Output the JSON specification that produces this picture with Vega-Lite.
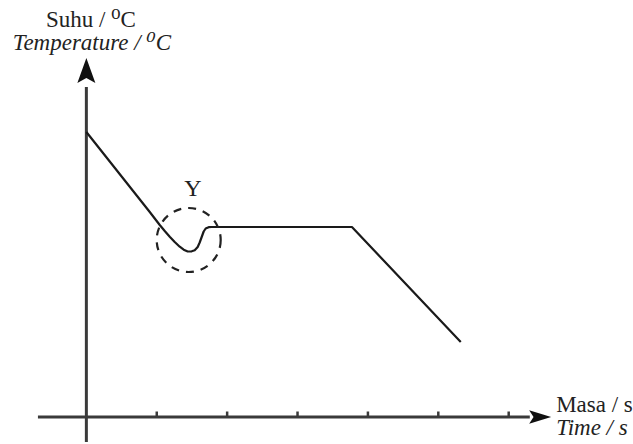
{
  "$schema": "https://vega.github.io/schema/vega-lite/v6.json",
  "width": 633,
  "height": 444,
  "padding": 0,
  "autosize": {"type": "fit", "contains": "padding"},
  "background": "white",
  "config": {"view": {"stroke": null}},
  "datasets": {
    "curve": [
      {"t": 0, "T": 28.5},
      {"t": 0.9007, "T": 20.5},
      {"t": 0.9716, "T": 19.85},
      {"t": 1.0426, "T": 19.2},
      {"t": 1.1135, "T": 18.6},
      {"t": 1.1844, "T": 18.03},
      {"t": 1.2553, "T": 17.5},
      {"t": 1.3262, "T": 17.03},
      {"t": 1.383, "T": 16.73},
      {"t": 1.4397, "T": 16.55},
      {"t": 1.4965, "T": 16.57},
      {"t": 1.539, "T": 16.67},
      {"t": 1.5816, "T": 17.0},
      {"t": 1.6099, "T": 17.45},
      {"t": 1.6383, "T": 18.0},
      {"t": 1.6667, "T": 18.55},
      {"t": 1.695, "T": 18.85},
      {"t": 1.7376, "T": 18.98},
      {"t": 1.7801, "T": 19.0},
      {"t": 3.773, "T": 19.0},
      {"t": 5.3191, "T": 7.5}
    ],
    "yaxis": [{"t": 0, "T": -2.5, "T2": 33}],
    "xaxis": [{"t": -0.688, "t2": 6.3, "T": 0}],
    "ticks": [
      {"t": 1, "T": 0, "T2": 0.55},
      {"t": 2, "T": 0, "T2": 0.55},
      {"t": 3, "T": 0, "T2": 0.55},
      {"t": 4, "T": 0, "T2": 0.55},
      {"t": 5, "T": 0, "T2": 0.55},
      {"t": 6, "T": 0, "T2": 0.55}
    ],
    "yarrow": [{"t": 0, "T": 34.65}],
    "xarrow": [{"t": 6.447, "T": 0}],
    "circle": [{"t": 1.4539, "T": 17.7}],
    "ylabel": [{"t": 1.515, "T": 22.8, "label": "Y"}],
    "ytitle1": [{"t": 0.064, "T": 39.7, "label": "Suhu / ⁰C"}],
    "ytitle2": [{"t": 0.078, "T": 37.4, "label": "Temperature / ⁰C"}],
    "xtitle1": [{"t": 6.674, "T": 1.2, "label": "Masa / s"}],
    "xtitle2": [{"t": 6.674, "T": -1.1, "label": "Time / s"}]
  },
  "encoding": {
    "x": {"field": "t", "type": "quantitative", "axis": null, "scale": {"domain": [-1.227, 7.7518], "nice": false, "zero": false}},
    "y": {"field": "T", "type": "quantitative", "axis": null, "scale": {"domain": [-2.7, 41.7], "nice": false, "zero": false}}
  },
  "layer": [
    {
      "data": {"name": "yaxis"},
      "mark": {"type": "rule", "color": "#3a3a3a", "strokeWidth": 3, "strokeCap": "butt"},
      "encoding": {"y2": {"field": "T2"}}
    },
    {
      "data": {"name": "xaxis"},
      "mark": {"type": "rule", "color": "#3a3a3a", "strokeWidth": 3, "strokeCap": "butt"},
      "encoding": {"x2": {"field": "t2"}}
    },
    {
      "data": {"name": "ticks"},
      "mark": {"type": "rule", "color": "#3a3a3a", "strokeWidth": 2.5, "strokeCap": "butt"},
      "encoding": {"y2": {"field": "T2"}}
    },
    {
      "data": {"name": "yarrow"},
      "mark": {"type": "point", "shape": "M0,-1L0.72,1L0,0.6L-0.72,1Z", "size": 625, "filled": true, "color": "#111111", "opacity": 1, "strokeWidth": 0}
    },
    {
      "data": {"name": "xarrow"},
      "mark": {"type": "point", "shape": "M1,0L-1,0.62L-0.6,0L-1,-0.62Z", "size": 484, "filled": true, "color": "#111111", "opacity": 1, "strokeWidth": 0}
    },
    {
      "data": {"name": "curve"},
      "mark": {"type": "line", "color": "#1a1a1a", "strokeWidth": 2.2, "interpolate": "linear", "strokeJoin": "round"}
    },
    {
      "data": {"name": "circle"},
      "mark": {"type": "point", "shape": "circle", "size": 4096, "filled": false, "color": "#222222", "strokeWidth": 2.2, "strokeDash": [8, 7], "opacity": 1}
    },
    {
      "data": {"name": "ylabel"},
      "mark": {"type": "text", "font": "Liberation Serif, DejaVu Serif", "fontSize": 24, "color": "#222222", "align": "center", "baseline": "middle"},
      "encoding": {"text": {"field": "label"}}
    },
    {
      "data": {"name": "ytitle1"},
      "mark": {"type": "text", "font": "Liberation Serif, DejaVu Serif", "fontSize": 23, "color": "#222222", "align": "center", "baseline": "middle"},
      "encoding": {"text": {"field": "label"}}
    },
    {
      "data": {"name": "ytitle2"},
      "mark": {"type": "text", "font": "Liberation Serif, DejaVu Serif", "fontStyle": "italic", "fontSize": 23, "color": "#222222", "align": "center", "baseline": "middle"},
      "encoding": {"text": {"field": "label"}}
    },
    {
      "data": {"name": "xtitle1"},
      "mark": {"type": "text", "font": "Liberation Serif, DejaVu Serif", "fontSize": 23, "color": "#222222", "align": "left", "baseline": "middle"},
      "encoding": {"text": {"field": "label"}}
    },
    {
      "data": {"name": "xtitle2"},
      "mark": {"type": "text", "font": "Liberation Serif, DejaVu Serif", "fontStyle": "italic", "fontSize": 23, "color": "#222222", "align": "left", "baseline": "middle"},
      "encoding": {"text": {"field": "label"}}
    }
  ]
}
